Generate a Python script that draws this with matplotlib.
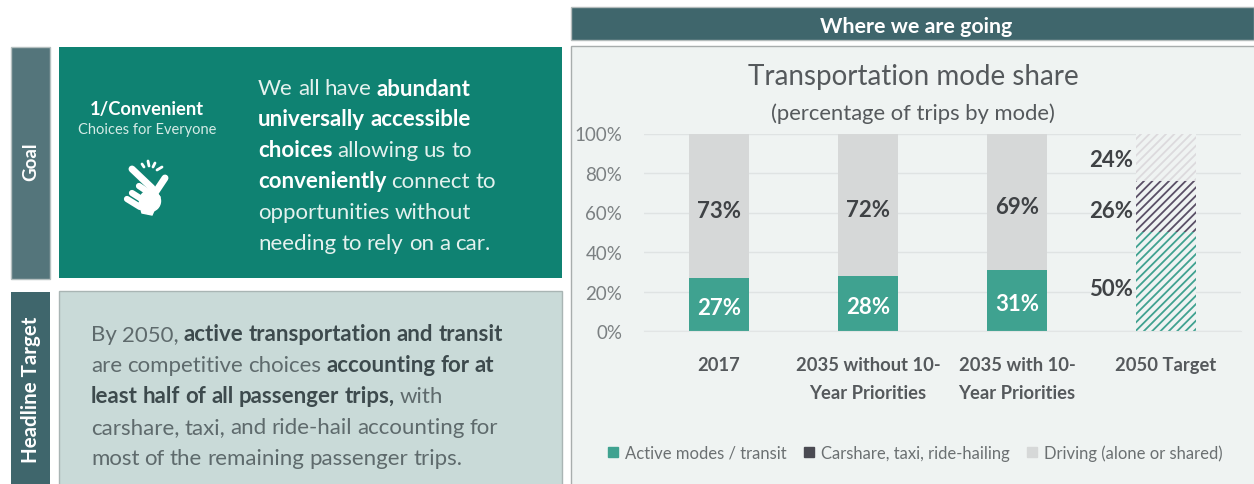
import matplotlib
matplotlib.use('Agg')
from matplotlib import pyplot as plt
from matplotlib.patches import Rectangle, Patch, Circle, Polygon

## Data
categories = ['2017', '2035 without 10-\nYear Priorities', '2035 with 10-\nYear Priorities', '2050 Target']
active = [27, 28, 31, 50]
carshare = [0, 0, 0, 26]
driving = [73, 72, 69, 24]
y_ticks = [0, 20, 40, 60, 80, 100]
legend_labels = ['Active modes / transit', 'Carshare, taxi, ride-hailing', 'Driving (alone or shared)']

# Text blocks, as (text, bold) runs per line
goal_lines = [
    [('We all have', False), ('abundant', True)],
    [('universally accessible', True)],
    [('choices', True), ('allowing us to', False)],
    [('conveniently', True), ('connect to', False)],
    [('opportunities without', False)],
    [('needing to rely on a car.', False)],
]
target_lines = [
    [('By 2050,', False), ('active transportation and transit', True)],
    [('are competitive choices', False), ('accounting for at', True)],
    [('least half of all passenger trips,', True), ('with', False)],
    [('carshare, taxi, and ride-hail accounting for', False)],
    [('most of the remaining passenger trips.', False)],
]

## Colours
TEAL = '#0f8272'
GREEN = '#3fa290'
SLATE = '#3f666c'
SIDE = '#54757b'
PALE = '#c9dad8'
PANEL = '#eff3f2'
GREY_BAR = '#d6d8d8'
DARK = '#4a4a52'
TEXT = '#55595c'

plt.rcParams['font.family'] = ['Lato', 'DejaVu Sans']
plt.rcParams['hatch.linewidth'] = 1.3

W, H = 1254, 485
fig = plt.figure(figsize=(W / 100, H / 100), dpi=100, facecolor='white')

# Background layer, in image pixels
bg = fig.add_axes([0, 0, 1, 1], zorder=0)
bg.set_xlim(0, W)
bg.set_ylim(H, 0)
bg.axis('off')

def box(x0, y0, x1, y1, color, **kw):
    bg.add_patch(Rectangle((x0, y0), x1 - x0, y1 - y0, facecolor=color, edgecolor=kw.pop('ec', 'none'), **kw))

box(11, 48, 50, 280, SIDE, ec='#b5c0c0', lw=1)
box(59, 48, 562, 279, TEAL)
box(11, 293, 50, 486, SLATE)
box(59, 292, 562, 486, PALE, ec='#a9b5b4', lw=1)
box(571, 8, 1254, 41, SLATE, ec='#b4bcbc', lw=1)
box(571, 47, 1256, 486, PANEL, ec='#a8adad', lw=1)

bg.text(31, 162, 'Goal', color='white', fontsize=13.5, fontweight='bold', rotation=90, ha='center', va='center')
bg.text(31, 390, 'Headline Target', color='white', fontsize=14.8, fontweight='bold', rotation=90, ha='center', va='center')
bg.text(916, 27, 'Where we are going', color='white', fontsize=15.4, fontweight='bold', ha='center', va='center')
bg.text(147, 109, '1/Convenient', color='white', fontsize=13.2, fontweight='bold', ha='center', va='center')
bg.text(147, 130, 'Choices for Everyone', color='#d5ebe6', fontsize=10.5, ha='center', va='center')

# Draw words one after the other, since bold and regular share a line
renderer = fig.canvas.get_renderer()
def text_lines(lines, x, y0, step, size, color, bold_color):
    for n, runs in enumerate(lines):
        cur = x
        for s, bold in runs:
            for word in s.split(' '):
                t = bg.text(cur, y0 + n * step, word, fontsize=size, va='center_baseline',
                            color=bold_color if bold else color,
                            fontweight='bold' if bold else 'normal')
                cur += t.get_window_extent(renderer).width + size * 0.32

text_lines(goal_lines, 258, 87, 31, 16, '#e4f1ee', 'white')
text_lines(target_lines, 91, 333, 31, 16, '#5e6a6c', '#3d4a4d')

# Hand icon
def stroke(x, y, w):
    bg.plot(x, y, color='white', lw=w, solid_capstyle='round')

stroke([132, 152], [170, 189], 5)
stroke([165, 155], [179, 194], 5)
stroke([139, 148], [187, 193], 4.5)
stroke([132, 143], [194, 201], 4.5)
stroke([127, 140], [200, 208], 4.5)
bg.add_patch(Circle((150, 202), 10.5, color='white'))
bg.add_patch(Polygon([[139, 204], [152, 190], [160, 198], [152, 216], [142, 214]], color='white'))
for sx, sy in [([142, 144], [165, 168]), ([148, 149], [162, 167]), ([155, 153], [164, 168]), ([162, 157], [168, 171])]:
    stroke(sx, sy, 2)

bg.text(913, 77, 'Transportation mode share', color=TEXT, fontsize=20, ha='center', va='center')
bg.text(913, 114, '(percentage of trips by mode)', color=TEXT, fontsize=15.8, ha='center', va='center')

# Chart
ax = fig.add_axes([644.5 / W, 1 - 332 / H, 596 / W, 197.5 / H], zorder=1)
ax.patch.set_alpha(0)
x = list(range(len(categories)))
bottom2 = [a + c for a, c in zip(active, carshare)]
bars_a = ax.bar(x, active, width=0.405, color=GREEN, zorder=2)
bars_c = ax.bar(x, carshare, width=0.405, bottom=active, color=DARK, zorder=2)
bars_d = ax.bar(x, driving, width=0.405, bottom=bottom2, color=GREY_BAR, zorder=2)

# The target bar is hatched
for bars, col in [(bars_a, GREEN), (bars_c, '#5a4f66'), (bars_d, '#dcdadd')]:
    p = bars[-1]
    p.set_facecolor(PANEL)
    p.set_edgecolor(col)
    p.set_linewidth(0)
    p.set_hatch('////')

ax.set_xlim(-0.5, 3.5)
ax.set_ylim(0, 100)
ax.set_yticks(y_ticks)
ax.set_yticklabels(['%d%%' % v for v in y_ticks], fontsize=13.5, color='#7b8082')
ax.set_xticks(x)
ax.set_xticklabels(categories, fontsize=13.2, fontweight='bold', color=TEXT, linespacing=1.8)
ax.tick_params(axis='y', length=0, pad=16)
ax.tick_params(axis='x', length=0, pad=18)
ax.grid(axis='y', color='#dfe3e3', lw=1, zorder=1)
for s in ['top', 'right', 'left']:
    ax.spines[s].set_visible(False)
ax.spines['bottom'].set_color('#e2e5e5')

# Value labels
for i in x[:-1]:
    ax.annotate('%d%%' % active[i], (i, active[i] / 2), xytext=(0, -2), textcoords='offset points',
                ha='center', va='center', color='white', fontsize=16, fontweight='bold', zorder=3)
    ax.annotate('%d%%' % driving[i], (i, active[i] + driving[i] / 2), xytext=(0, -3.5), textcoords='offset points',
                ha='center', va='center', color='#3f4245', fontsize=16, fontweight='bold', zorder=3)
i = x[-1]
for base, val, dy in [(0, active[i], -5), (active[i], carshare[i], -2.5), (bottom2[i], driving[i], -2)]:
    ax.annotate('%d%%' % val, (i - 0.2, base + val / 2), xytext=(-2, dy), textcoords='offset points',
                ha='right', va='center', color='#3f4245', fontsize=16, fontweight='bold', zorder=3)

handles = [Patch(color=GREEN), Patch(color=DARK), Patch(color=GREY_BAR)]
leg = ax.legend(handles, legend_labels, ncol=3, frameon=False, fontsize=12, labelcolor='#6b7072',
                loc='center left', bbox_to_anchor=((600 - 644.5) / 596, -0.615),
                handlelength=0.6, handleheight=0.6, handletextpad=0.4, columnspacing=1.05, borderpad=0)

plt.savefig('out.png', dpi=100)
